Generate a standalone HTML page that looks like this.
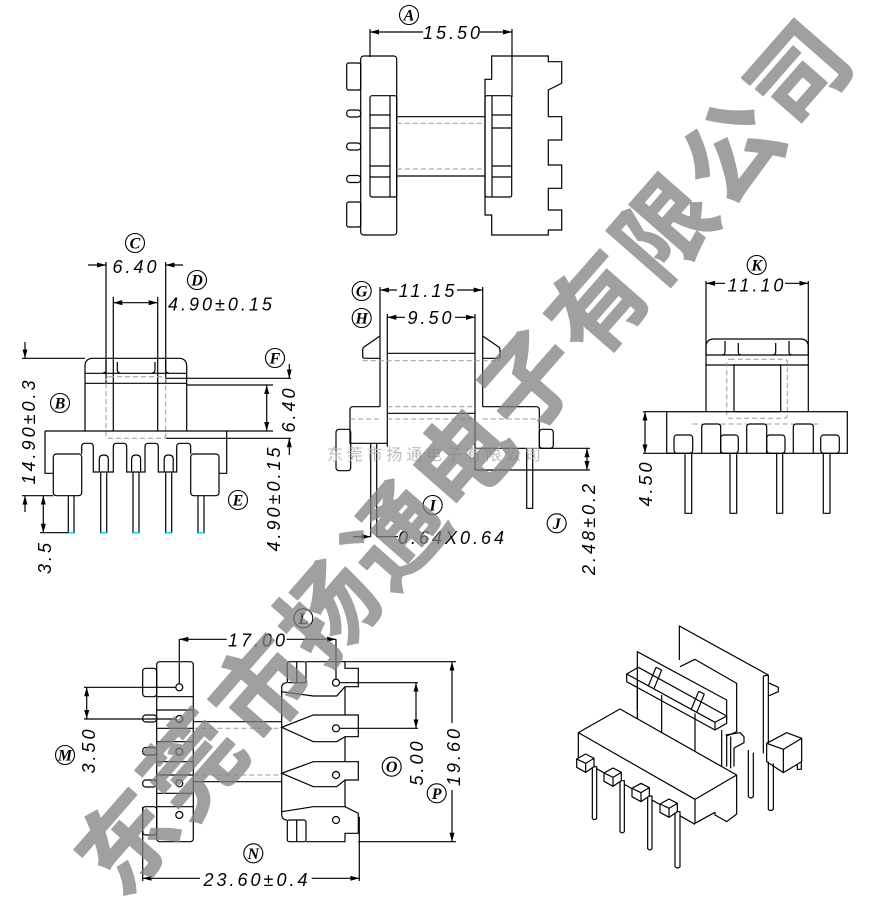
<!DOCTYPE html>
<html><head><meta charset="utf-8">
<style>
html,body{margin:0;padding:0;background:#fff;}
svg{display:block}
.l{fill:none;stroke:#000;stroke-width:1.2}
.d{fill:none;stroke:#9a9a9a;stroke-width:1;stroke-dasharray:5 3}
.t{font-family:"Liberation Sans",sans-serif;font-style:italic;font-size:18px;letter-spacing:3px;fill:#000}
.m{text-anchor:middle}
.c{fill:none;stroke:#000;stroke-width:1.1}
.cl{font-family:"Liberation Serif",serif;font-style:italic;font-weight:bold;font-size:16px;fill:#000;text-anchor:middle}
.wm{font-family:"Noto Sans CJK SC","WenQuanYi Zen Hei",sans-serif;font-weight:700;font-size:96px;text-anchor:middle;dominant-baseline:central}
.sw{font-family:"Liberation Sans","Noto Sans CJK SC",sans-serif;font-size:16px;letter-spacing:3.8px;fill:#bdbdbd}
.cy{stroke:#00d8e8;stroke-width:1.5}
</style></head><body>
<svg width="870" height="901" viewBox="0 0 870 901" xmlns="http://www.w3.org/2000/svg">
<defs>
<marker id="a" viewBox="0 0 10 10" refX="10" refY="5" markerWidth="9" markerHeight="9" markerUnits="userSpaceOnUse" orient="auto"><path d="M0,2.2 L10,5 L0,7.8 z" fill="#000"/></marker>
</defs>

<!-- ===== VIEW 1 (top) ===== -->
<circle cx="409" cy="15" r="9.5" class="c"/><text x="409" y="20.5" class="cl">A</text>
<path class="l" d="M370,29V57 M512,29V97"/>
<path class="l" d="M423,32H370" marker-end="url(#a)"/>
<path class="l" d="M480,32H512" marker-end="url(#a)"/>
<text x="453" y="39" class="t m">15.50</text>

<rect class="l" x="360.7" y="56" width="36" height="179" rx="3"/>
<rect class="l" x="346.7" y="63" width="14" height="27" rx="2"/>
<rect class="l" x="346.7" y="202" width="14" height="25" rx="2"/>
<rect class="l" x="346.7" y="110" width="14" height="7" rx="3"/>
<rect class="l" x="346.7" y="143" width="14" height="7" rx="3"/>
<rect class="l" x="346.7" y="175.5" width="14" height="7" rx="3"/>
<rect class="l" x="370" y="95.7" width="26.7" height="101.3" rx="2"/>
<path class="l" d="M390,95.7V197 M370,115H390 M370,128H390 M370,166H390 M370,177H390"/>
<path class="l" d="M396.7,116.7H485 M396.7,176H485"/>
<path class="d" d="M396.7,123.3H485 M396.7,169H485"/>

<path class="l" d="M491.7,56H548.3V61.7H561.7V83.3L548.3,90V116.7H561.7V140H548.3V165H561.7V188.3H548.3V210H561.7V230H548.3V235H491.7V215H485V79.3H491.7Z"/>
<rect class="l" x="485" y="95.7" width="26.7" height="101.3" rx="2"/>
<path class="l" d="M492,95.7V197 M492,115H511.7 M492,128H511.7 M492,166H511.7 M492,177H511.7"/>

<!-- ===== VIEW 2 (B side) ===== -->
<circle cx="135" cy="243" r="9.5" class="c"/><text x="135" y="248.5" class="cl">C</text>
<circle cx="197" cy="280" r="9.5" class="c"/><text x="197" y="285.5" class="cl">D</text>
<circle cx="60" cy="403" r="9.5" class="c"/><text x="60" y="408.5" class="cl">B</text>
<circle cx="275" cy="358" r="9.5" class="c"/><text x="275" y="363.5" class="cl">F</text>
<circle cx="238" cy="500" r="9.5" class="c"/><text x="238" y="505.5" class="cl">E</text>

<path class="l" d="M106,262V383 M165.7,262V383"/>
<path class="l" d="M88,265H106" marker-end="url(#a)"/>
<path class="l" d="M183,265H165.7" marker-end="url(#a)"/>
<text x="136" y="273" class="t m">6.40</text>

<path class="l" d="M113.3,296.7V431 M157.7,296.7V431"/>
<path class="l" d="M135.5,302.7H113.3" marker-end="url(#a)"/>
<path class="l" d="M135.5,302.7H157.7" marker-end="url(#a)"/>
<text x="168" y="310.5" class="t">4.90±0.15</text>

<path class="l" d="M85,383.3V366.3Q85,358.3 93,358.3H178.7Q186.7,358.3 186.7,366.3V383.3"/>
<path class="l" d="M85,373.3H186.7 M85,383.3H186.7"/>
<path class="l" d="M106,360V370q0,3 -3,3 M117.3,362V370q0,3 3,3 M155,362V370q0,3 -3,3 M165.7,360V370q0,3 3,3"/>
<rect class="d" x="106" y="376.7" width="59.7" height="61.6" rx="3"/>
<path class="l" d="M85,383.3V431 M186.7,383.3V431"/>
<path class="l" d="M45,431V473.3H53.3 M219,473.3H226.7V431H45 M81.7,454V446.7Q81.7,443.3 85,443.3H90Q93.3,443.3 93.3,446.7V472H113.3V446.7Q113.3,443.3 116.7,443.3H123.3Q126.7,443.3 126.7,446.7V472H145V446.7Q145,443.3 148.3,443.3H155Q158.3,443.3 158.3,446.7V472H176.7V446.7Q176.7,443.3 180,443.3H187.3Q190.7,443.3 190.7,446.7V454"/>
<rect class="l" x="53.3" y="454" width="28.4" height="41.7" rx="3"/>
<rect class="l" x="190.7" y="454" width="28.3" height="41.7" rx="3"/>
<path class="l" d="M99.3,472V459q0,-4 4.5,-4t4.5,4V472 M131.6,472V459q0,-4 4.5,-4t4.5,4V472 M164.2,472V459q0,-4 4.5,-4t4.5,4V472"/>
<path class="l" d="M68.3,495.7V532.7H74V495.7 M100.7,472V532.7H106.7V472 M133,472V532.7H139V472 M165.7,472V532.7H171.7V472 M198,495.7V532.7H204V495.7"/>
<path class="cy" d="M68.3,532.7H74 M100.7,532.7H106.7 M133,532.7H139 M165.7,532.7H171.7 M198,532.7H204"/>

<path class="l" d="M22,358.3H85 M22,495.7H53.3 M40,532.7H68.3"/>
<path class="l" d="M25,342V358.3" marker-end="url(#a)"/>
<path class="l" d="M25,512V495.7" marker-end="url(#a)"/>
<text transform="translate(35,431) rotate(-90)" class="t m">14.90±0.3</text>
<path class="l" d="M43.3,514V495.7" marker-end="url(#a)"/>
<path class="l" d="M43.3,514V532.7" marker-end="url(#a)"/>
<text transform="translate(51,557) rotate(-90)" class="t m">3.5</text>

<path class="l" d="M166,378.3H291 M186.7,385H273 M226.7,431H273 M165.7,438.3H291"/>
<path class="l" d="M289.3,364V378.3" marker-end="url(#a)"/>
<path class="l" d="M289.3,455V438.3" marker-end="url(#a)"/>
<path class="l" d="M266.7,408V385" marker-end="url(#a)"/>
<path class="l" d="M266.7,408V431" marker-end="url(#a)"/>
<text transform="translate(295,409) rotate(-90)" class="t m">6.40</text>
<text transform="translate(280,498) rotate(-90)" class="t m">4.90±0.15</text>

<!-- ===== VIEW 3 (G/H front) ===== -->
<circle cx="361.7" cy="291" r="9.5" class="c"/><text x="361.7" y="296.5" class="cl">G</text>
<circle cx="361.7" cy="318" r="9.5" class="c"/><text x="361.7" y="323.5" class="cl">H</text>
<path class="l" d="M397,290H380" marker-end="url(#a)"/>
<path class="l" d="M457,290H482.7" marker-end="url(#a)"/>
<text x="428" y="297" class="t m">11.15</text>
<path class="l" d="M405,317.3H387.3" marker-end="url(#a)"/>
<path class="l" d="M455,317.3H475" marker-end="url(#a)"/>
<text x="431" y="324" class="t m">9.50</text>

<path class="l" d="M380,287V406.7 M387.3,314V446.7 M482.7,287V406.7 M475,314V470"/>
<path class="l" d="M380,336L364,347Q362.7,348 362.7,350V356.3Q362.7,358.3 364.7,358.3H380"/>
<path class="l" d="M482.7,336L498.7,347Q500,348 500,350V356.3Q500,358.3 498,358.3H482.7"/>
<path class="l" d="M387.3,353.3H475"/>
<path class="d" d="M362.7,360.7H500"/>
<path class="l" d="M380,406.7H353Q350,406.7 350,410V443.3H387.3 M482.7,406.7H536Q539.3,406.7 539.3,410V448.3"/>
<path class="l" d="M387.3,413.3H475"/>
<path class="d" d="M387.3,406.7H475 M350,419H380 M387.3,419H475 M482.7,419H539.3"/>
<rect class="l" x="336" y="429.3" width="14.7" height="41.4" rx="3"/>
<rect class="l" x="539.3" y="429.3" width="14" height="19" rx="3"/>
<path class="l" d="M475,448.3H590 M475,470H590"/>
<path class="l" d="M526.7,448.3V508.3H532.7V448.3"/>
<path class="l" d="M370.7,443.3V536.7 M376.7,443.3V536.7"/>
<path class="l" d="M587,459V448.3" marker-end="url(#a)"/>
<path class="l" d="M587,459V470" marker-end="url(#a)"/>
<text transform="translate(595,528) rotate(-90)" class="t m">2.48±0.2</text>
<circle cx="432.7" cy="505" r="9.5" class="c"/><text x="432.7" y="510.5" class="cl">I</text>
<circle cx="556.7" cy="523.3" r="9.5" class="c"/><text x="556.7" y="528.8" class="cl">J</text>
<path class="l" d="M353,536.7H370.7" marker-end="url(#a)"/>
<path class="l" d="M376.7,536.7H398"/>
<text x="398" y="544" class="t">0.64X0.64</text>

<!-- ===== VIEW 4 (K) ===== -->
<circle cx="756.7" cy="265" r="9.5" class="c"/><text x="756.7" y="270.5" class="cl">K</text>
<path class="l" d="M725,283.3H706" marker-end="url(#a)"/>
<path class="l" d="M785,283.3H808.3" marker-end="url(#a)"/>
<text x="757" y="291.5" class="t m">11.10</text>
<path class="l" d="M706,281V411.7 M808.3,281V411.7"/>
<path class="l" d="M706,355V347Q706,339 714,339H800.3Q808.3,339 808.3,347V355 M706,355H808.3 M706,365H808.3"/>
<path class="l" d="M725,341V352q0,3 -3,3 M738.3,343V352q0,3 3,3 M775.7,343V352q0,3 -3,3 M789,341V352q0,3 3,3"/>
<rect class="l" x="734" y="365" width="46.7" height="46.7"/>
<rect class="d" x="726.7" y="359.3" width="60.6" height="59" rx="3"/>
<rect class="l" x="666.7" y="411.7" width="180.6" height="41.6"/>
<path class="l" d="M701.7,453.3V427q0,-3 3,-3H717.7q3,0 3,3V453.3 M746.7,453.3V427q0,-3 3,-3H763.7q3,0 3,3V453.3 M793.3,453.3V427q0,-3 3,-3H810.3q3,0 3,3V453.3"/>
<path class="d" d="M692.7,424H701.7 M720.7,424H746.7 M766.7,424H793.3 M813.3,424H822"/>
<rect class="l" x="674" y="435" width="18.7" height="18.3" rx="3"/>
<rect class="l" x="720.7" y="435" width="17.6" height="18.3" rx="3"/>
<rect class="l" x="766.7" y="435" width="18.3" height="18.3" rx="3"/>
<rect class="l" x="820.7" y="435" width="18.6" height="18.3" rx="3"/>
<path class="l" d="M685,453.3V513.3H691.7V453.3 M730,453.3V513.3H736.7V453.3 M776.7,453.3V513.3H782.7V453.3 M823.3,453.3V513.3H830V453.3"/>
<path class="l" d="M643,411.7H666.7 M643,453.3H674"/>
<path class="l" d="M645,432V411.7" marker-end="url(#a)"/>
<path class="l" d="M645,432V453.3" marker-end="url(#a)"/>
<text transform="translate(652,483) rotate(-90)" class="t m">4.50</text>

<!-- ===== VIEW 5 (bottom) ===== -->
<circle cx="303.3" cy="618.3" r="9.5" class="c"/><text x="303.3" y="623.8" class="cl">L</text>
<path class="l" d="M226.7,639.3H179.3" marker-end="url(#a)"/>
<path class="l" d="M286.7,639.3H336" marker-end="url(#a)"/>
<text x="258" y="646.7" class="t m">17.00</text>
<path class="l" d="M179.3,639.3V684 M336,639.3V679"/>

<rect class="l" x="156.7" y="661.7" width="36.6" height="180" rx="3"/>
<path class="l" d="M156.7,696.7H193.3 M156.7,710H193.3 M156.7,728.3H193.3 M156.7,741.7H193.3 M156.7,761.7H193.3 M156.7,775H193.3 M156.7,793.3H193.3 M156.7,806.7H193.3"/>
<rect class="l" x="142.7" y="668.3" width="14" height="28.4" rx="3"/>
<rect class="l" x="142.7" y="806.7" width="14" height="28.3" rx="3"/>
<rect class="l" x="142.7" y="715" width="14" height="7" rx="3"/>
<rect class="l" x="142.7" y="747.5" width="14" height="7.5" rx="3"/>
<rect class="l" x="142.7" y="780" width="14" height="7" rx="3"/>
<g class="l"><circle cx="179.3" cy="687.3" r="3.5"/><circle cx="179.3" cy="719" r="3.5"/><circle cx="179.3" cy="751.7" r="3.5"/><circle cx="179.3" cy="783.3" r="3.5"/><circle cx="179.3" cy="815" r="3.5"/></g>
<path class="l" d="M193.3,721.7H281.7 M193.3,781.7H281.7"/>
<path class="d" d="M193.3,728.3H281.7 M193.3,775H281.7"/>

<rect class="l" x="287.3" y="661.7" width="18.7" height="21" rx="2"/>
<path class="l" d="M296.7,661.7V682.7"/>
<rect class="l" x="287.3" y="820" width="18.7" height="21.7" rx="2"/>
<path class="l" d="M296.7,820V841.7"/>
<path class="l" d="M306,661.7H345V668.3H358.3V686.7H345 M345,736.7V761.7 M345,780V806.7 M358.3,813.3V833.3H345V841.7H306"/>
<path class="l" d="M287.3,682.7Q281.7,682.7 281.7,688V814Q281.7,820 287.3,820"/>
<path class="l" d="M281.7,691.7L313.3,696H336.7L345,686.7"/>
<path class="l" d="M313.3,715H358.3V736.7H345L336.7,741.7H313.3L281.7,727.3Z"/>
<path class="l" d="M313.3,761.7H358.3V780H345L336.7,786.7H313.3L281.7,773.3Z"/>
<path class="l" d="M281.7,811.7L313.3,806.7H345L358.3,813.3"/>
<path class="l" d="M345,686.7V715"/>
<g class="l"><circle cx="336" cy="682.7" r="3.5"/><circle cx="336" cy="728.3" r="3.5"/><circle cx="336" cy="775" r="3.5"/><circle cx="336" cy="820" r="3.5"/></g>

<path class="l" d="M339.5,682.7H418 M339.5,728.3H418"/>
<path class="l" d="M416,705V682.7" marker-end="url(#a)"/>
<path class="l" d="M416,705V728.3" marker-end="url(#a)"/>
<text transform="translate(423,762) rotate(-90)" class="t m">5.00</text>
<path class="l" d="M345,661.7H456 M358.3,841.7H456"/>
<path class="l" d="M452,723V661.7" marker-end="url(#a)"/>
<path class="l" d="M452,790V841.7" marker-end="url(#a)"/>
<text transform="translate(460,756) rotate(-90)" class="t m">19.60</text>
<circle cx="391.7" cy="766.7" r="9.5" class="c"/><text x="391.7" y="772.2" class="cl">O</text>
<circle cx="436.7" cy="793.3" r="9.5" class="c"/><text x="436.7" y="798.8" class="cl">P</text>

<path class="l" d="M84,687.3H176 M84,719H176"/>
<path class="l" d="M86.7,703V687.3" marker-end="url(#a)"/>
<path class="l" d="M86.7,703V719" marker-end="url(#a)"/>
<text transform="translate(95,750) rotate(-90)" class="t m">3.50</text>
<circle cx="65" cy="755" r="9.5" class="c"/><text x="65" y="760.5" class="cl">M</text>

<circle cx="253.3" cy="853.3" r="9.5" class="c"/><text x="253.3" y="858.8" class="cl">N</text>
<path class="l" d="M142.7,806.7V881 M359.3,816.7V881"/>
<path class="l" d="M200,878.3H142.7" marker-end="url(#a)"/>
<path class="l" d="M311.7,878.3H359.3" marker-end="url(#a)"/>
<text x="257" y="886" class="t m">23.60±0.4</text>

<!-- ===== VIEW 6 (iso) ===== -->
<g transform="translate(560,610) scale(0.33333)" fill="none" stroke="#000" stroke-width="3.6" stroke-linejoin="round">
  <path d="M358,150V48L625,195V400 M610,198V430 M610,198L625,195 M625,218L655,232V245L625,258"/>
  <path d="M620,400L680,368L725,385L670,418Z M620,400V455L670,488V418 M670,488L725,455V385 M712,465V478H724V458"/>
  <path d="M565,420V560Q572,568 580,560V428 M625,455V598Q632,605 640,598V460"/>
  <path d="M500,375V470 M512,380V475 M497,375L540,368L552,380V398L522,414V470"/>
  <path d="M360,170L405,148L530,220V365L500,378"/>
  <path d="M232,300V125L500,270V330"/>
  <path d="M200,192L235,172L500,318L465,337Z M200,192V215L465,360V337 M465,360L500,340V318"/>
  <path d="M265,228L288,172 M282,236L305,180 M288,172L305,180 M393,300L416,244 M410,308L433,252 M416,244L433,252"/>
  <path d="M232,215V326 M305,255V368 M405,310V424 M485,360V469"/>
  <path d="M55,368L180,297L530,495L405,568Z M55,368V445 M405,568V640 M55,445L405,643 M405,640L465,607V615L500,635L530,612V495"/>
  <g fill="#fff">
    <path d="M97,470V625Q103,633 110,625V470Z"/>
    <path d="M180,512V665Q186,673 193,665V512Z"/>
    <path d="M263,558V716Q269,724 276,716V558Z"/>
    <path d="M345,605V770Q352,778 360,770V605Z"/>
    <g id="cb"><path d="M50,447L77,432L102,445L77,460Z M50,447V472L77,487V460Z M77,460L102,445V470L77,487Z"/></g>
    <use href="#cb" transform="translate(82,42)"/>
    <use href="#cb" transform="translate(166,88)"/>
    <use href="#cb" transform="translate(250,135)"/>
  </g>
</g>

<!-- small horizontal watermark -->
<text x="327" y="460" class="sw">东莞市扬通电子有限公司</text>

<!-- big diagonal watermark -->
<g opacity="0.75" fill="#808080" stroke="#808080" stroke-width="1.5" stroke-linejoin="round">
<text class="wm" transform="translate(122,837) rotate(-48.8)">东</text>
<text class="wm" transform="translate(189,761) rotate(-48.8)">莞</text>
<text class="wm" transform="translate(257,684) rotate(-48.8)">市</text>
<text class="wm" transform="translate(324,607) rotate(-48.8)">扬</text>
<text class="wm" transform="translate(391,531) rotate(-48.8)">通</text>
<text class="wm" transform="translate(458,454) rotate(-48.8)">电</text>
<text class="wm" transform="translate(525,377) rotate(-48.8)">子</text>
<text class="wm" transform="translate(593,300) rotate(-48.8)">有</text>
<text class="wm" transform="translate(660,224) rotate(-48.8)">限</text>
<text class="wm" transform="translate(727,147) rotate(-48.8)">公</text>
<text class="wm" transform="translate(794,70) rotate(-48.8)">司</text>
</g>
</svg>
</body></html>
